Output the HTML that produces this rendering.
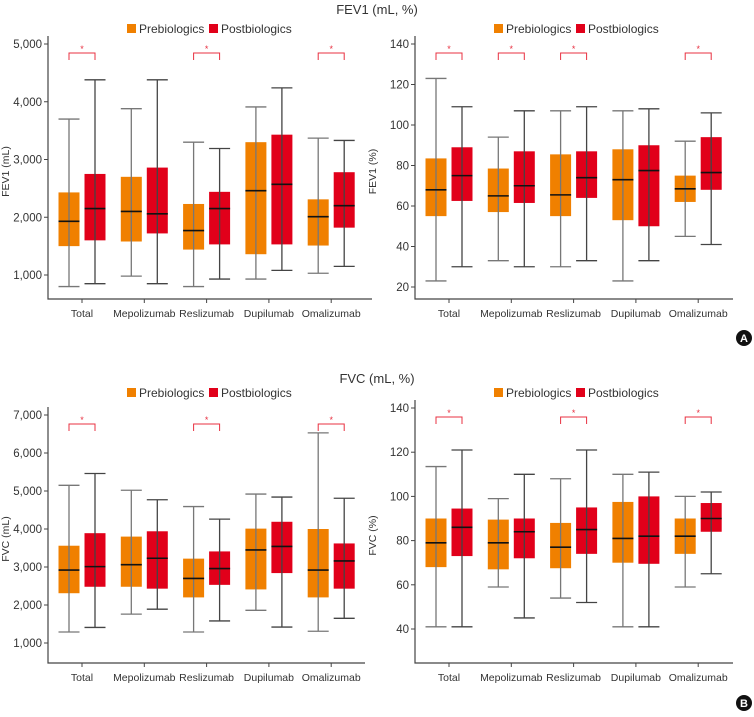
<!DOCTYPE html>
<html><head><meta charset="utf-8">
<style>
body{margin:0;background:#fff;width:754px;height:712px;overflow:hidden;font-family:"Liberation Sans",sans-serif}
svg text{font-family:"Liberation Sans",sans-serif;fill:#333}
</style></head><body>
<svg id="chart" width="754" height="712" viewBox="0 0 754 712" xmlns="http://www.w3.org/2000/svg">
<text x="377" y="14" font-size="13" text-anchor="middle">FEV1 (mL, %)</text>
<text x="377" y="383" font-size="13" text-anchor="middle">FVC (mL, %)</text>
<g><circle cx="744" cy="338" r="8" fill="#111"/><text x="744" y="342" font-size="11" font-weight="bold" text-anchor="middle" style="fill:#fff">A</text></g>
<g><circle cx="744" cy="703" r="8" fill="#111"/><text x="744" y="707" font-size="11" font-weight="bold" text-anchor="middle" style="fill:#fff">B</text></g>
</svg>
<script>
const categories=["Total","Mepolizumab","Reslizumab","Dupilumab","Omalizumab"];
// [min, q1, median, q3, max]
const fev1mlPre=[[800,1500,1930,2430,3700],[980,1580,2100,2700,3880],[800,1440,1770,2230,3300],[930,1360,2460,3300,3910],[1030,1510,2010,2310,3370]];
const fev1mlPost=[[850,1600,2150,2750,4380],[850,1720,2060,2860,4380],[930,1530,2150,2440,3190],[1080,1530,2570,3430,4240],[1150,1820,2200,2780,3330]];
const fev1pPre=[[23,55,68,83.5,123],[33,57,65,78.5,94],[30,55,65.5,85.5,107],[23,53,73,88,107],[45,62,68.5,75,92]];
const fev1pPost=[[30,62.5,75,89,109],[30,61.5,70,87,107],[33,64,74,87,109],[33,50,77.5,90,108],[41,68,76.5,94,106]];
const fvcmlPre=[[1290,2310,2920,3560,5150],[1760,2480,3060,3800,5020],[1290,2200,2700,3220,4590],[1860,2410,3450,4010,4920],[1310,2200,2920,4000,6530]];
const fvcmlPost=[[1410,2480,3010,3890,5460],[1890,2430,3230,3940,4770],[1580,2530,2960,3410,4260],[1420,2840,3540,4190,4840],[1650,2430,3160,3620,4810]];
const fvcpPre=[[41,68,79,90,113.5],[59,67,79,89.5,99],[54,67.5,77,88,108],[41,70,81,97.5,110],[59,74,82,90,100]];
const fvcpPost=[[41,73,86,94.5,121],[45,72,84,90,110],[52,74,85,95,121],[41,69.5,82,100,111],[65,84,90,97,102]];
const sigFev1ml=[1,0,1,0,1], sigFev1p=[1,1,1,0,1], sigFvcml=[1,0,1,0,1], sigFvcp=[1,0,1,0,1];
const ticksFev1ml=[1000,2000,3000,4000,5000], ticksFev1p=[20,40,60,80,100,120,140];
const ticksFvcml=[1000,2000,3000,4000,5000,6000,7000], ticksFvcp=[40,60,80,100,120,140];

const svg=document.getElementById('chart');
const NS='http://www.w3.org/2000/svg';
function mk(tag,attrs,parent){const e=document.createElementNS(NS,tag);for(const k in attrs)e.setAttribute(k,attrs[k]);parent.appendChild(e);return e;}
function fmt(v){return v>=1000?v.toLocaleString('en-US'):String(v);}

function panel(o){
  const g=mk('g',{},svg);
  
  
  const y=v=>o.yTop+(o.vTop-v)*(o.yBot-o.yTop)/(o.vTop-o.vBot);
  const x=i=>o.x0+i*62.3;
  const ax=mk('path',{d:`M${o.ax} ${o.yTop-8}V${o.base}H${o.axEnd}`,stroke:'#444',fill:'none','stroke-width':1.2},g);
  
  
  o.ticks.forEach(t=>{
    mk('line',{x1:o.ax-4,x2:o.ax,y1:y(t),y2:y(t),stroke:'#444'},g);
    const tl=mk('text',{x:o.ax-6,y:y(t)+4,'font-size':11.5,'text-anchor':'end'},g);
    tl.textContent=fmt(t);
    
    
  });
  const yt=mk('text',{x:0,y:0,'font-size':10.5,'text-anchor':'middle',transform:`translate(${o.ax-39},${(o.yTop+o.base)/2}) rotate(-90)`},g);
  yt.textContent=o.ytitle;
  
  
  const lg=mk('g',{},g);
  
  
  mk('rect',{x:o.legX,y:o.legY-5,width:9,height:9,fill:'#f08000'},lg);
  const l1=mk('text',{x:o.legX+12,y:o.legY+4,'font-size':12},lg);l1.textContent='Prebiologics';
  mk('rect',{x:o.legX+82,y:o.legY-5,width:9,height:9,fill:'#e1001a'},lg);
  const l2=mk('text',{x:o.legX+94,y:o.legY+4,'font-size':12},lg);l2.textContent='Postbiologics';
  categories.forEach((c,i)=>{
    const cx=x(i);
    mk('line',{x1:cx,x2:cx,y1:o.base,y2:o.base+4,stroke:'#444'},g);
    const cl=mk('text',{x:cx,y:o.base+18,'font-size':10.5,'text-anchor':'middle'},g);
    cl.textContent=c;
    
    
    [[o.pre[i],-13,'#f08000','#777'],[o.post[i],13,'#e1001a','#444']].forEach(([d,off,col,wc],k)=>{
      const bx=cx+off, w=21;
      const bg=mk('g',{},g);
      
      
      mk('rect',{x:bx-w/2,y:y(d[3]),width:w,height:y(d[1])-y(d[3]),fill:col},bg);
      mk('line',{x1:bx,x2:bx,y1:y(d[4]),y2:y(d[0]),stroke:wc,'stroke-width':1.3},bg);
      mk('line',{x1:bx-w/2,x2:bx+w/2,y1:y(d[4]),y2:y(d[4]),stroke:wc,'stroke-width':1.3},bg);
      mk('line',{x1:bx-w/2,x2:bx+w/2,y1:y(d[0]),y2:y(d[0]),stroke:wc,'stroke-width':1.3},bg);
      mk('line',{x1:bx-w/2,x2:bx+w/2,y1:y(d[2]),y2:y(d[2]),stroke:'#111','stroke-width':1.6},bg);
    });
    if(o.sig[i]){
      const s=mk('g',{},g);
      
      
      const by=o.yTop+9;
      mk('path',{d:`M${cx-13} ${by+7}V${by}H${cx+13}V${by+7}`,stroke:'#e83040',fill:'none','stroke-width':1},s);
      const st=mk('text',{x:cx,y:by-1,'font-size':9,'text-anchor':'middle',style:'fill:#e83040'},s);st.textContent='*';
    }
  });
}
panel({name:'panel-fev1-ml',pre:fev1mlPre,post:fev1mlPost,sig:sigFev1ml,ticks:ticksFev1ml,vTop:5000,vBot:1000,yTop:44,yBot:275,base:299,ax:48,axEnd:372,x0:82,ytitle:'FEV1 (mL)',legX:127,legY:29});
panel({name:'panel-fev1-pct',pre:fev1pPre,post:fev1pPost,sig:sigFev1p,ticks:ticksFev1p,vTop:140,vBot:20,yTop:44,yBot:287,base:299,ax:415,axEnd:733,x0:449,ytitle:'FEV1 (%)',legX:494,legY:29});
panel({name:'panel-fvc-ml',pre:fvcmlPre,post:fvcmlPost,sig:sigFvcml,ticks:ticksFvcml,vTop:7000,vBot:1000,yTop:415,yBot:643,base:663,ax:48,axEnd:365,x0:82,ytitle:'FVC (mL)',legX:127,legY:393});
panel({name:'panel-fvc-pct',pre:fvcpPre,post:fvcpPost,sig:sigFvcp,ticks:ticksFvcp,vTop:140,vBot:40,yTop:408,yBot:629,base:663,ax:415,axEnd:733,x0:449,ytitle:'FVC (%)',legX:494,legY:393});
</script>
</body></html>
